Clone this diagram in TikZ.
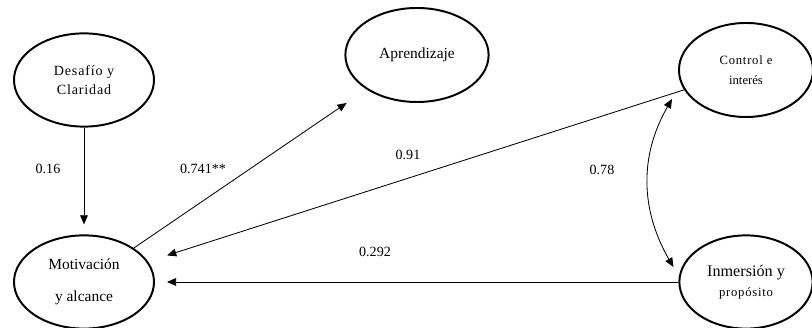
\documentclass[tikz,border=0pt]{standalone}
\usepackage{fontspec}
\setmainfont{Liberation Serif}
\newfontfamily\spacedrm[LetterSpace=6]{Liberation Serif}
\usetikzlibrary{arrows.meta,shapes.geometric}

\begin{document}
\begin{tikzpicture}[x=0.025cm, y=0.025cm, font=\fontsize{10}{12}\selectfont,
  >={Triangle[length=6.5pt,width=5.5pt]},
  latent/.style={ellipse, draw, line width=1.4pt, inner sep=0pt, align=center,
                 minimum width=3.5cm, minimum height=2.33cm},
  effect/.style={->, line width=0.6pt},
  coef/.style={font=\fontsize{10}{12}\selectfont}]
\useasboundingbox (0,0) rectangle (812,328);
% ---------- latent factors ----------
\node[latent] (desafio) at (84,248) {{\spacedrm Desafío y}\\[1pt]{\spacedrm Claridad}};
\node[latent, minimum width=3.58cm, minimum height=2.35cm, font=\fontsize{11}{13}\selectfont]
      (aprend) at (417,273) {Aprendizaje};
\node[latent, minimum width=3.35cm, minimum height=2.35cm, font=\fontsize{9}{11}\selectfont]
      (control) at (746,258) {{\spacedrm Control e}\\[3pt]interés};
\node[latent, font=\fontsize{11}{13}\selectfont]
      (motiv) at (84,46) {Motivación\\[10pt]y alcance};
\node[latent, minimum width=3.33cm, font=\fontsize{11.5}{13}\selectfont]
      (inmers) at (746,46) {Inmersión y\\[1pt]{\fontsize{9}{11}\selectfont\spacedrm propósito}};
% ---------- paths ----------
\draw[effect, shorten >=0.25cm] (desafio) -- (motiv);
\draw[effect, shorten >=0.6cm] (motiv) -- (aprend);
\draw[effect, shorten >=0.5cm] (control) -- (motiv);
\draw[effect, shorten >=0.3cm] (inmers) -- (motiv);
\draw[<->, line width=0.6pt] ([shift={(-6,-29)}]control.west)
      to[out=240, in=120] ([shift={(-5,15)}]inmers.west);
% ---------- coefficients ----------
\node[coef] (c16) at (48,159) {0.16};
\node[coef] (c741) at (203,159) {0.741**};
\node[coef] (c91) at (408,173) {0.91};
\node[coef] (c78) at (602,158) {0.78};
\node[coef] (c292) at (375,76) {0.292};
\end{tikzpicture}
\end{document}
